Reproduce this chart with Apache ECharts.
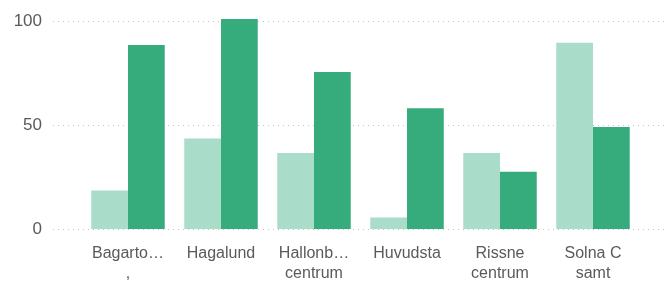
<!DOCTYPE html>
<html>
<head>
<meta charset="utf-8">
<script src="https://cdn.jsdelivr.net/npm/echarts@6/dist/echarts.min.js"></script>
<style>
html,body{margin:0;padding:0;background:#fff;}
#chartBar{width:666px;height:284px;}
</style>
</head>
<body>
<div id="chartBar"></div>
<script>
// data
var categories = ['Bagarto…\n,', 'Hagalund', 'Hallonb…\ncentrum', 'Huvudsta', 'Rissne\ncentrum', 'Solna C\nsamt'];
var lightValues = [18.5, 43.5, 36.5, 5.5, 36.5, 89.5];
var darkValues = [88.5, 101, 75.5, 58, 27.5, 49];
var yTicks = [0, 50, 100];

var myChart = echarts.init(document.getElementById('chartBar'));
var option = {
    backgroundColor: '#fff',
    animation: false,
    textStyle: { fontFamily: '"Liberation Sans", Arial, sans-serif' },
    grid: [
        // full width grid: only for the dotted lines and y labels
        { left: 53, right: 0, top: 21, bottom: 54.5 },
        // bars
        { left: 81.5, right: 26.5, top: 21, bottom: 54.5 }
    ],
    xAxis: [
        { type: 'value', gridIndex: 0, show: false, min: 0, max: 1 },
        {
            type: 'category',
            gridIndex: 1,
            data: categories,
            axisLine: { show: false },
            axisTick: { show: false },
            axisLabel: {
                color: '#5a5a5a',
                fontSize: 16,
                lineHeight: 20,
                margin: 15,
                interval: 0
            }
        }
    ],
    yAxis: [
        {
            type: 'value',
            gridIndex: 0,
            min: yTicks[0],
            max: yTicks[yTicks.length - 1],
            interval: 50,
            axisLine: { show: false },
            axisTick: { show: false },
            axisLabel: { color: '#5a5a5a', fontSize: 17, margin: 11 },
            splitLine: {
                show: true,
                lineStyle: { color: '#c4c4c4', width: 1, type: [1, 4] }
            }
        },
        {
            type: 'value',
            gridIndex: 1,
            min: 0,
            max: 100,
            interval: 50,
            show: false
        }
    ],
    series: [
        {
            type: 'bar',
            xAxisIndex: 1,
            yAxisIndex: 1,
            data: lightValues,
            clip: false,
            barGap: '0%',
            barCategoryGap: '21%',
            itemStyle: { color: '#a9dcc9' }
        },
        {
            type: 'bar',
            xAxisIndex: 1,
            yAxisIndex: 1,
            data: darkValues,
            clip: false,
            barGap: '0%',
            barCategoryGap: '21%',
            itemStyle: { color: '#36ab7c' }
        }
    ]
};
myChart.setOption(option);
</script>
</body>
</html>
